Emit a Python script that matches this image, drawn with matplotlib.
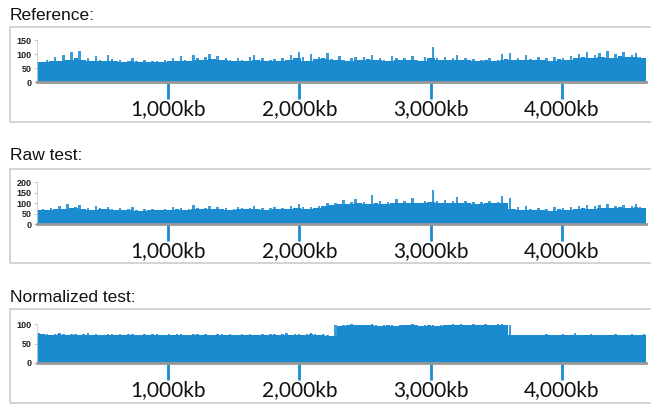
import numpy as np
import matplotlib
matplotlib.use('Agg')
import matplotlib.pyplot as plt
from matplotlib.patches import Rectangle

genome_kb = 4641
xtick_kb = [1000, 2000, 3000, 4000]
xtick_labels = ["1,000kb", "2,000kb", "3,000kb", "4,000kb"]

# coverage per ~31kb bin
ref_cov = [72, 70, 78, 74, 88, 76, 95, 80, 108, 84,
           110, 78, 86, 74, 92, 80, 76, 98, 82, 74,
           80, 72, 76, 84, 74, 70, 78, 72, 76, 74,
           70, 78, 74, 86, 76, 92, 80, 76, 96, 84,
           78, 88, 100, 82, 92, 78, 86, 80, 76, 84,
           80, 74, 88, 96, 80, 84, 74, 78, 82, 76,
           86, 80, 98, 84, 106, 88, 76, 100, 82, 90,
           86, 104, 82, 78, 92, 80, 76, 84, 90, 78,
           88, 82, 96, 78, 86, 80, 76, 92, 84, 80,
           86, 78, 92, 80, 76, 88, 84, 124, 86, 80,
           90, 78, 84, 96, 80, 86, 78, 82, 74, 80,
           78, 84, 76, 80, 100, 82, 104, 78, 86, 80,
           96, 82, 78, 88, 80, 84, 76, 90, 82, 86,
           80, 94, 84, 100, 88, 108, 84, 96, 104, 88,
           110, 86, 100, 92, 106, 88, 96, 104, 90, 84]

raw_cov = [68, 72, 66, 78, 70, 84, 72, 96, 74, 80,
           92, 70, 78, 68, 86, 74, 70, 82, 72, 68,
           74, 66, 72, 80, 68, 64, 72, 66, 70, 68,
           66, 72, 68, 80, 70, 74, 66, 70, 92, 74,
           70, 78, 88, 72, 80, 70, 74, 68, 72, 80,
           74, 70, 78, 86, 72, 78, 68, 74, 80, 72,
           78, 72, 84, 76, 96, 80, 72, 82, 76, 88,
           84, 98, 92, 100, 96, 112, 94, 104, 118, 98,
           106, 96, 138, 100, 110, 96, 104, 100, 120, 98,
           108, 100, 124, 102, 98, 110, 104, 160, 108, 100,
           114, 100, 108, 130, 102, 110, 98, 106, 96, 104,
           100, 108, 98, 104, 132, 100, 122, 70, 80, 66,
           84, 70, 66, 76, 68, 72, 64, 80, 70, 76,
           68, 82, 72, 88, 74, 90, 72, 84, 90, 76,
           94, 74, 86, 80, 92, 76, 84, 94, 80, 74]

norm_cov = [76, 74, 75, 73, 74, 78, 74, 73, 75, 74,
            73, 74, 76, 73, 74, 73, 72, 74, 75, 73,
            74, 73, 75, 74, 72, 73, 74, 73, 75, 74,
            73, 72, 74, 73, 75, 74, 73, 72, 74, 75,
            73, 74, 72, 73, 75, 74, 73, 74, 72, 73,
            74, 73, 75, 73, 72, 74, 73, 74, 75, 73,
            74, 76, 73, 74, 75, 73, 74, 76, 75, 73,
            74, 72, 70, 97, 96, 98, 97, 99, 98, 97,
            98, 97, 99, 98, 96, 97, 98, 97, 96, 98,
            97, 98, 99, 97, 96, 98, 97, 98, 96, 97,
            98, 97, 99, 98, 100, 98, 97, 99, 98, 97,
            99, 98, 97, 99, 100, 98, 97, 72, 71, 72,
            73, 72, 71, 73, 72, 74, 72, 73, 71, 74,
            72, 73, 76, 72, 73, 72, 74, 73, 72, 71,
            73, 72, 74, 73, 72, 73, 74, 72, 73, 75]

W, H = 651, 404
blue = '#1b8bd0'
spike_blue = '#3a9cda'
fig = plt.figure(figsize=(W/100, H/100), dpi=100)
plt.rcParams['font.family'] = ['Liberation Sans', 'DejaVu Sans']

def px_axes(l, t, r, b):
    return fig.add_axes([l/W, 1-b/H, (r-l)/W, (b-t)/H])

panels = [
    ("Reference:", ref_cov, 15, (27, 122), (40, 82), 150, [0, 50, 100, 150]),
    ("Raw test:", raw_cov, 155, (169, 263), (182, 224), 200, [0, 50, 100, 150, 200]),
    ("Normalized test:", norm_cov, 298, (309, 403), (324, 363), 100, [0, 50, 100]),
]

for title, cov, ty, box, ax_y, ymax, yt in panels:
    fig.text(10/W, 1-ty/H, title, fontsize=12.5, va='center', ha='left', color='#111111')
    fig.patches.append(Rectangle((10/W, 1-box[1]/H), 645/W, (box[1]-box[0])/H,
                                 transform=fig.transFigure, fill=False,
                                 edgecolor='#cccccc', lw=1.2))
    ax = px_axes(37, ax_y[0], 646, ax_y[1])
    cov = np.array(cov)
    n = len(cov)
    binw = genome_kb / n
    x = np.arange(n) * binw
    # solid body = lowest neighbouring bin, narrower spike = the bin itself
    padded = np.concatenate([[cov[0]], cov, [cov[-1]]])
    body = np.minimum(np.minimum(padded[:-2], padded[1:-1]), padded[2:])
    ax.bar(x + binw*0.2, cov, width=binw*0.6, align='edge', color=spike_blue, linewidth=0)
    ax.bar(x, body, width=binw, align='edge', color=blue, linewidth=0)
    ax.set_xlim(0, genome_kb)
    ax.set_ylim(0, ymax)
    ax.set_yticks(yt)
    ax.tick_params(axis='y', labelsize=6.5, length=2, width=0.6, pad=2,
                   color='#bbbbbb', labelcolor='#222222')
    for lab in ax.get_yticklabels():
        lab.set_fontweight('bold')
    ax.set_xticks(xtick_kb)
    ax.set_xticklabels(xtick_labels, family=['Lato', 'DejaVu Sans'])
    ax.tick_params(axis='x', length=12, width=2, color=blue, labelsize=15,
                   pad=0, labelcolor='#111111')
    for s in ['top', 'right']:
        ax.spines[s].set_visible(False)
    ax.spines['left'].set_color('#cccccc')
    ax.spines['left'].set_linewidth(0.6)
    ax.spines['bottom'].set_color('#999999')
    ax.spines['bottom'].set_linewidth(2)
    ax.patch.set_alpha(0)

plt.savefig('out.png', dpi=100)
plt.close()
